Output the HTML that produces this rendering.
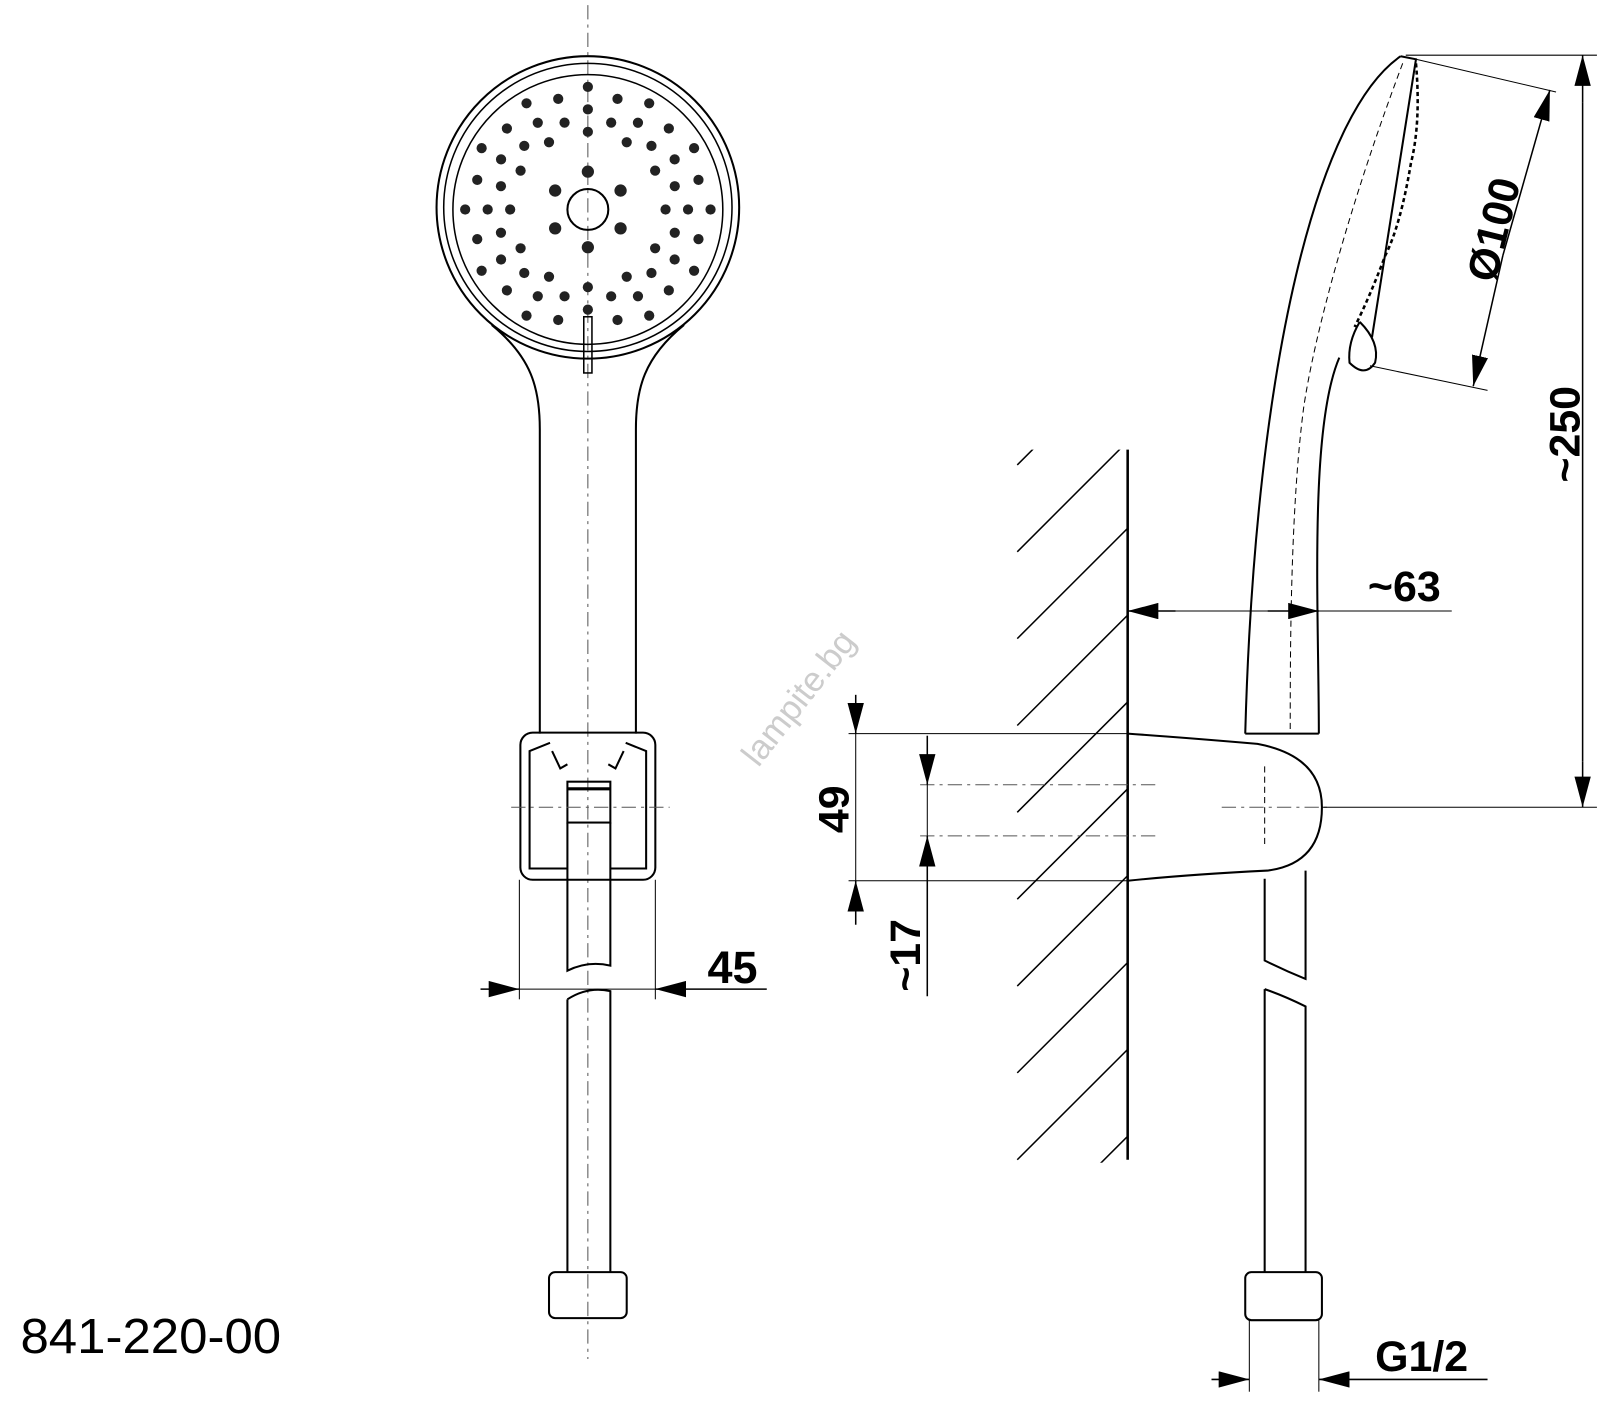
<!DOCTYPE html>
<html><head><meta charset="utf-8"><style>
html,body{margin:0;padding:0;background:#fff}
svg{display:block}
text{font-family:"Liberation Sans",sans-serif;fill:#000}
</style></head><body>
<svg width="1600" height="1406" viewBox="0 0 1565 1376" preserveAspectRatio="none" xmlns="http://www.w3.org/2000/svg">
<defs>
<marker id="a" markerUnits="userSpaceOnUse" markerWidth="30" markerHeight="16" refX="30" refY="8" orient="auto"><path d="M0,0 L30,8 L0,16 z" fill="#000"/></marker>
<clipPath id="wc"><rect x="993" y="440" width="110" height="698"/></clipPath>
</defs>
<rect width="1565" height="1376" fill="#fff"/>
<g fill="none" stroke="#000" stroke-width="2">
<line x1="575" y1="5" x2="575" y2="1330" stroke-width="1" stroke-dasharray="14,5,3,5" stroke="#555"/>
<circle cx="575" cy="203" r="148"/>
<circle cx="575" cy="203" r="141" stroke-width="1.5"/>
<circle cx="575" cy="205" r="132" stroke-width="1.5"/>
<circle cx="575" cy="205" r="20"/>
<path d="M481,318 C520,350 528,380 528,420 L528,718"/>
<path d="M669,318 C630,350 622,380 622,420 L622,718"/>
<rect x="571" y="310" width="8" height="55" stroke-width="1.5"/>
<rect x="509" y="717" width="132" height="144" rx="12"/>
<path d="M538,727 L518,735 L518,850 L555,850"/>
<path d="M612,727 L632,735 L632,850 L597,850"/>
<path d="M540,735 L548,752 L555,748"/><path d="M610,735 L602,752 L595,748"/>
<rect x="555" y="765" width="42" height="40"/>
<line x1="555" y1="772" x2="597" y2="772" stroke-width="3"/>
<line x1="500" y1="790" x2="655" y2="790" stroke-width="1" stroke-dasharray="14,5,3,5" stroke="#555"/>
<path d="M555,805 L555,950 Q575,940 597,945 L597,805"/>
<path d="M555,978 Q575,965 597,970 L597,1245 M555,978 L555,1245"/>
<rect x="537" y="1245" width="76" height="45" rx="6"/>
<line x1="508" y1="861" x2="508" y2="978" stroke-width="1"/>
<line x1="641" y1="861" x2="641" y2="978" stroke-width="1"/>
<line x1="470" y1="968" x2="508" y2="968" stroke-width="1.5" marker-end="url(#a)"/>
<line x1="750" y1="968" x2="641" y2="968" stroke-width="1.5" marker-end="url(#a)"/>
<line x1="508" y1="968" x2="641" y2="968" stroke-width="1"/>

<line x1="1103" y1="440" x2="1103" y2="1135" stroke-width="2.5"/>
<g clip-path="url(#wc)" stroke-width="1.5">
<line x1="995" y1="455" x2="1110" y2="340"/>
<line x1="995" y1="540" x2="1110" y2="425"/>
<line x1="995" y1="625" x2="1110" y2="510"/>
<line x1="995" y1="710" x2="1110" y2="595"/>
<line x1="995" y1="795" x2="1110" y2="680"/>
<line x1="995" y1="880" x2="1110" y2="765"/>
<line x1="995" y1="965" x2="1110" y2="850"/>
<line x1="995" y1="1050" x2="1110" y2="935"/>
<line x1="995" y1="1135" x2="1110" y2="1020"/>
<line x1="995" y1="1220" x2="1110" y2="1105"/>
</g>
<path d="M1103,718 Q1160,722 1230,728 Q1293,740 1293,790 Q1293,845 1240,852 Q1160,856 1103,862"/>
<line x1="1237" y1="750" x2="1237" y2="830" stroke-width="1" stroke-dasharray="6,4"/>
<path d="M1370,55 C1290,110 1228,350 1218,718"/>
<path d="M1310,350 C1280,420 1290,600 1290,718"/>
<path d="M1370,55 L1385,58 L1342,330"/>
<path d="M1372,62 C1320,200 1285,330 1275,400 C1262,500 1262,640 1262,718" stroke-width="1" stroke-dasharray="6,4"/>
<path d="M1385,62 Q1390,120 1380,160 Q1370,220 1355,250 Q1340,290 1325,320" stroke-width="2.5" stroke-dasharray="4,3"/>
<path d="M1330,315 Q1350,335 1345,355 Q1335,370 1320,355 Q1318,335 1330,315"/>
<line x1="1218" y1="718" x2="1290" y2="718"/>
<path d="M1237,860 L1237,940 Q1257,950 1277,958 L1277,852"/>
<path d="M1237,968 Q1257,975 1277,985 L1277,1245 M1237,968 L1237,1245"/>
<rect x="1218" y="1245" width="75" height="47" rx="6"/>
<line x1="1195" y1="790" x2="1300" y2="790" stroke-width="1" stroke-dasharray="14,5,3,5" stroke="#555"/>
<line x1="900" y1="768" x2="1135" y2="768" stroke-width="1" stroke-dasharray="14,5,3,5" stroke="#555"/>
<line x1="900" y1="818" x2="1135" y2="818" stroke-width="1" stroke-dasharray="14,5,3,5" stroke="#555"/>
<line x1="1375" y1="54" x2="1562" y2="54" stroke-width="1"/>
<line x1="1293" y1="790" x2="1562" y2="790" stroke-width="1"/>
<line x1="1548" y1="100" x2="1548" y2="745" stroke-width="1.5"/>
<line x1="1548" y1="100" x2="1548" y2="54" stroke-width="1.5" marker-end="url(#a)"/>
<line x1="1548" y1="745" x2="1548" y2="790" stroke-width="1.5" marker-end="url(#a)"/>
<line x1="1385" y1="58" x2="1522" y2="90" stroke-width="1"/>
<line x1="1340" y1="358" x2="1455" y2="382" stroke-width="1"/>
<line x1="1470" y1="250" x2="1516" y2="88" stroke-width="1.5" marker-end="url(#a)"/>
<line x1="1470" y1="250" x2="1441" y2="378" stroke-width="1.5" marker-end="url(#a)"/>
<line x1="1150" y1="598" x2="1103" y2="598" stroke-width="1.5" marker-end="url(#a)"/>
<line x1="1240" y1="598" x2="1290" y2="598" stroke-width="1.5" marker-end="url(#a)"/>
<line x1="1150" y1="598" x2="1420" y2="598" stroke-width="1"/>
<line x1="830" y1="718" x2="1103" y2="718" stroke-width="1"/>
<line x1="830" y1="862" x2="1103" y2="862" stroke-width="1"/>
<line x1="837" y1="680" x2="837" y2="718" stroke-width="1.5" marker-end="url(#a)"/>
<line x1="837" y1="905" x2="837" y2="862" stroke-width="1.5" marker-end="url(#a)"/>
<line x1="837" y1="718" x2="837" y2="862" stroke-width="1"/>
<line x1="907" y1="720" x2="907" y2="768" stroke-width="1.5" marker-end="url(#a)"/>
<line x1="907" y1="975" x2="907" y2="818" stroke-width="1.5" marker-end="url(#a)"/>
<line x1="907" y1="768" x2="907" y2="818" stroke-width="1"/>
<line x1="1222" y1="1292" x2="1222" y2="1362" stroke-width="1"/>
<line x1="1290" y1="1292" x2="1290" y2="1362" stroke-width="1"/>
<line x1="1185" y1="1350" x2="1222" y2="1350" stroke-width="1.5" marker-end="url(#a)"/>
<line x1="1455" y1="1350" x2="1290" y2="1350" stroke-width="1.5" marker-end="url(#a)"/>
</g>
<g fill="#222">
<circle cx="607" cy="223.5" r="6"/><circle cx="575" cy="242" r="6"/><circle cx="543" cy="223.5" r="6"/><circle cx="543" cy="186.5" r="6"/><circle cx="575" cy="168" r="6"/><circle cx="607" cy="186.5" r="6"/>
<circle cx="651" cy="205" r="5"/><circle cx="673" cy="205" r="5"/><circle cx="695" cy="205" r="5"/>
<circle cx="640.8" cy="243" r="5"/><circle cx="659.9" cy="254" r="5"/><circle cx="678.9" cy="265" r="5"/>
<circle cx="613" cy="270.8" r="5"/><circle cx="624" cy="289.9" r="5"/><circle cx="635" cy="308.9" r="5"/>
<circle cx="575" cy="281" r="5"/><circle cx="575" cy="303" r="5"/>
<circle cx="537" cy="270.8" r="5"/><circle cx="526" cy="289.9" r="5"/><circle cx="515" cy="308.9" r="5"/>
<circle cx="509.2" cy="243" r="5"/><circle cx="490.1" cy="254" r="5"/><circle cx="471.1" cy="265" r="5"/>
<circle cx="499" cy="205" r="5"/><circle cx="477" cy="205" r="5"/><circle cx="455" cy="205" r="5"/>
<circle cx="509.2" cy="167" r="5"/><circle cx="490.1" cy="156" r="5"/><circle cx="471.1" cy="145" r="5"/>
<circle cx="537" cy="139.2" r="5"/><circle cx="526" cy="120.1" r="5"/><circle cx="515" cy="101.1" r="5"/>
<circle cx="575" cy="129" r="5"/><circle cx="575" cy="107" r="5"/><circle cx="575" cy="85" r="5"/>
<circle cx="613" cy="139.2" r="5"/><circle cx="624" cy="120.1" r="5"/><circle cx="635" cy="101.1" r="5"/>
<circle cx="640.8" cy="167" r="5"/><circle cx="659.9" cy="156" r="5"/><circle cx="678.9" cy="145" r="5"/>
<circle cx="660" cy="227.8" r="5"/><circle cx="683.2" cy="234" r="5"/>
<circle cx="637.2" cy="267.2" r="5"/><circle cx="654.2" cy="284.2" r="5"/>
<circle cx="597.8" cy="290" r="5"/><circle cx="604" cy="313.2" r="5"/>
<circle cx="552.2" cy="290" r="5"/><circle cx="546" cy="313.2" r="5"/>
<circle cx="512.8" cy="267.2" r="5"/><circle cx="495.8" cy="284.2" r="5"/>
<circle cx="490" cy="227.8" r="5"/><circle cx="466.8" cy="234" r="5"/>
<circle cx="490" cy="182.2" r="5"/><circle cx="466.8" cy="176" r="5"/>
<circle cx="512.8" cy="142.8" r="5"/><circle cx="495.8" cy="125.8" r="5"/>
<circle cx="552.2" cy="120" r="5"/><circle cx="546" cy="96.8" r="5"/>
<circle cx="597.8" cy="120" r="5"/><circle cx="604" cy="96.8" r="5"/>
<circle cx="637.2" cy="142.8" r="5"/><circle cx="654.2" cy="125.8" r="5"/>
<circle cx="660" cy="182.2" r="5"/><circle cx="683.2" cy="176" r="5"/>
</g>
<text x="20" y="1324" font-size="48" textLength="255" lengthAdjust="spacingAndGlyphs">841-220-00</text>
<text x="692" y="962" font-size="44" font-weight="bold">45</text>
<text x="1338" y="588" font-size="42" font-weight="bold">~63</text>
<text x="1345" y="1342" font-size="42" font-weight="bold">G1/2</text>
<text transform="translate(1545,425) rotate(-90)" font-size="42" font-weight="bold" text-anchor="middle">~250</text>
<text transform="translate(1475,228) rotate(-76)" font-size="42" font-weight="bold" text-anchor="middle">Ø100</text>
<text transform="translate(830,792) rotate(-90)" font-size="42" font-weight="bold" text-anchor="middle">49</text>
<text transform="translate(900,935) rotate(-90)" font-size="42" font-weight="bold" text-anchor="middle">~17</text>
<text transform="translate(790,690) rotate(-52)" font-size="34" text-anchor="middle" style="fill:#ccc">lampite.bg</text>
</svg>
</body></html>
